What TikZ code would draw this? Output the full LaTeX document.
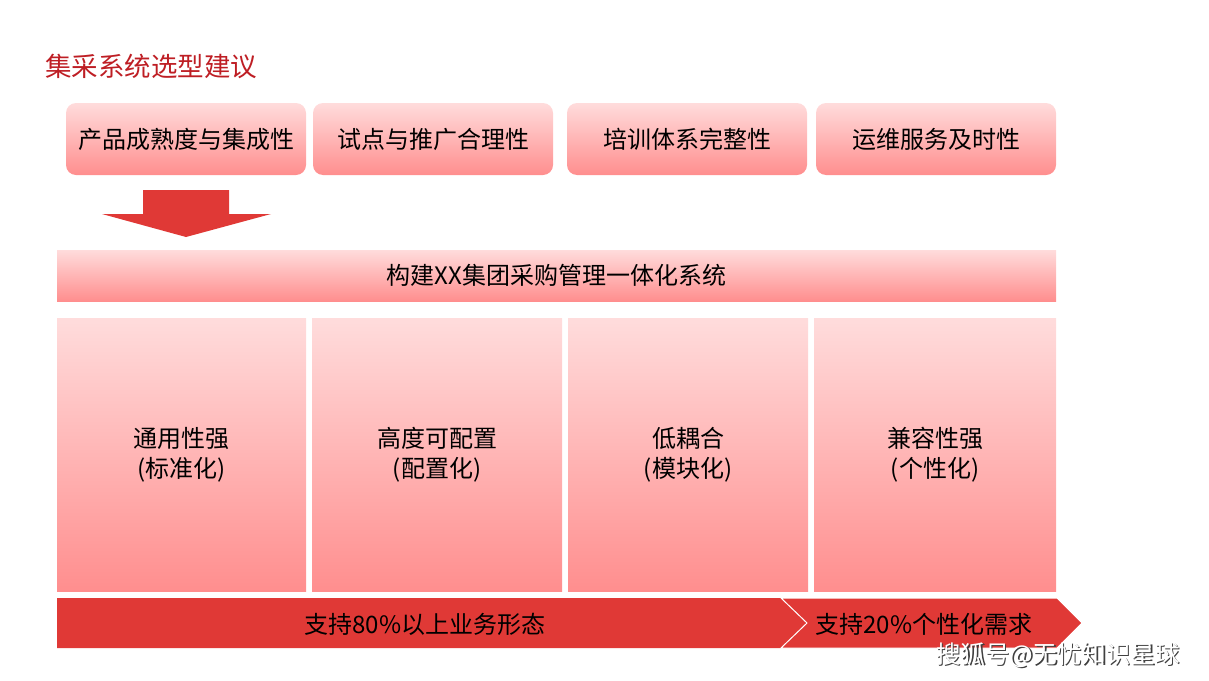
\documentclass[tikz,border=0pt]{standalone}
\usepackage{fontspec}
\setmainfont{Noto Sans CJK SC}
\usetikzlibrary{positioning}
\definecolor{titlered}{RGB}{190,30,36}
\definecolor{barred}{RGB}{224,57,54}
\definecolor{pinktop}{RGB}{255,220,220}
\definecolor{pinkbot}{RGB}{255,142,142}

\begin{document}
\begin{tikzpicture}[x=1pt, y=-1pt,
  crit/.style={rectangle, rounded corners=10pt, top color=pinktop, bottom color=pinkbot, minimum width=240pt, minimum height=72pt, inner sep=0pt, font=\fontsize{24}{28}\selectfont},
  col/.style={rectangle, top color=pinktop, bottom color=pinkbot, minimum height=273pt, inner sep=0pt, align=center, font=\fontsize{24}{30}\selectfont},
  bartext/.style={inner sep=0pt, font=\fontsize{24}{28}\selectfont}
]
\useasboundingbox (0,0) rectangle (1209,680);

% title
\node[anchor=west, text=titlered, inner sep=0pt, font=\fontsize{26.5}{30}\selectfont] (title) at (45,66) {集采系统选型建议};

% selection criteria
\node[crit] (c1) at (186,139) {产品成熟度与集成性};
\node[crit] (c2) at (433,139) {试点与推广合理性};
\node[crit] (c3) at (687,139) {培训体系完整性};
\node[crit] (c4) at (936,139) {运维服务及时性};

% down arrow
\fill[barred] (143,190) -- (229,190) -- (229,214) -- (271,214) -- (186,237) -- (102,214) -- (143,214) -- cycle;

% banner
\node[rectangle, top color=pinktop, bottom color=pinkbot, minimum width=999pt, minimum height=51pt, inner sep=0pt, font=\fontsize{24}{28}\selectfont] (sys) at (556.5,275.5) {构建XX集团采购管理一体化系统};

% four columns
\node[col, minimum width=249pt] (p1) at (181.5,454.5) {通用性强\\(标准化)};
\node[col, minimum width=250pt] (p2) at (437,454.5) {高度可配置\\(配置化)};
\node[col, minimum width=240pt] (p3) at (688,454.5) {低耦合\\(模块化)};
\node[col, minimum width=242pt] (p4) at (935,454.5) {兼容性强\\(个性化)};

% bottom chevrons
\fill[barred] (57,598) -- (781,598) -- (807,623) -- (781,648) -- (57,648) -- cycle;
\filldraw[fill=barred, draw=white, line width=1pt] (781,598) -- (1057,598) -- (1082,623) -- (1057,648) -- (781,648) -- (807,623) -- cycle;
\node[bartext] (s80) at (425,624) {支持80\%以上业务形态};
\node[bartext] (s20) at (924,624) {支持20\%个性化需求};

% watermark
\node[anchor=east, inner sep=0pt, text=black!75, font=\fontsize{24.5}{28}\selectfont] (wms) at (1181.5,656.5) {搜狐号@无忧知识星球};
\node[anchor=east, inner sep=0pt, text=white, font=\fontsize{24.5}{28}\selectfont] (wm) at (1180,655) {搜狐号@无忧知识星球};
\end{tikzpicture}
\end{document}
